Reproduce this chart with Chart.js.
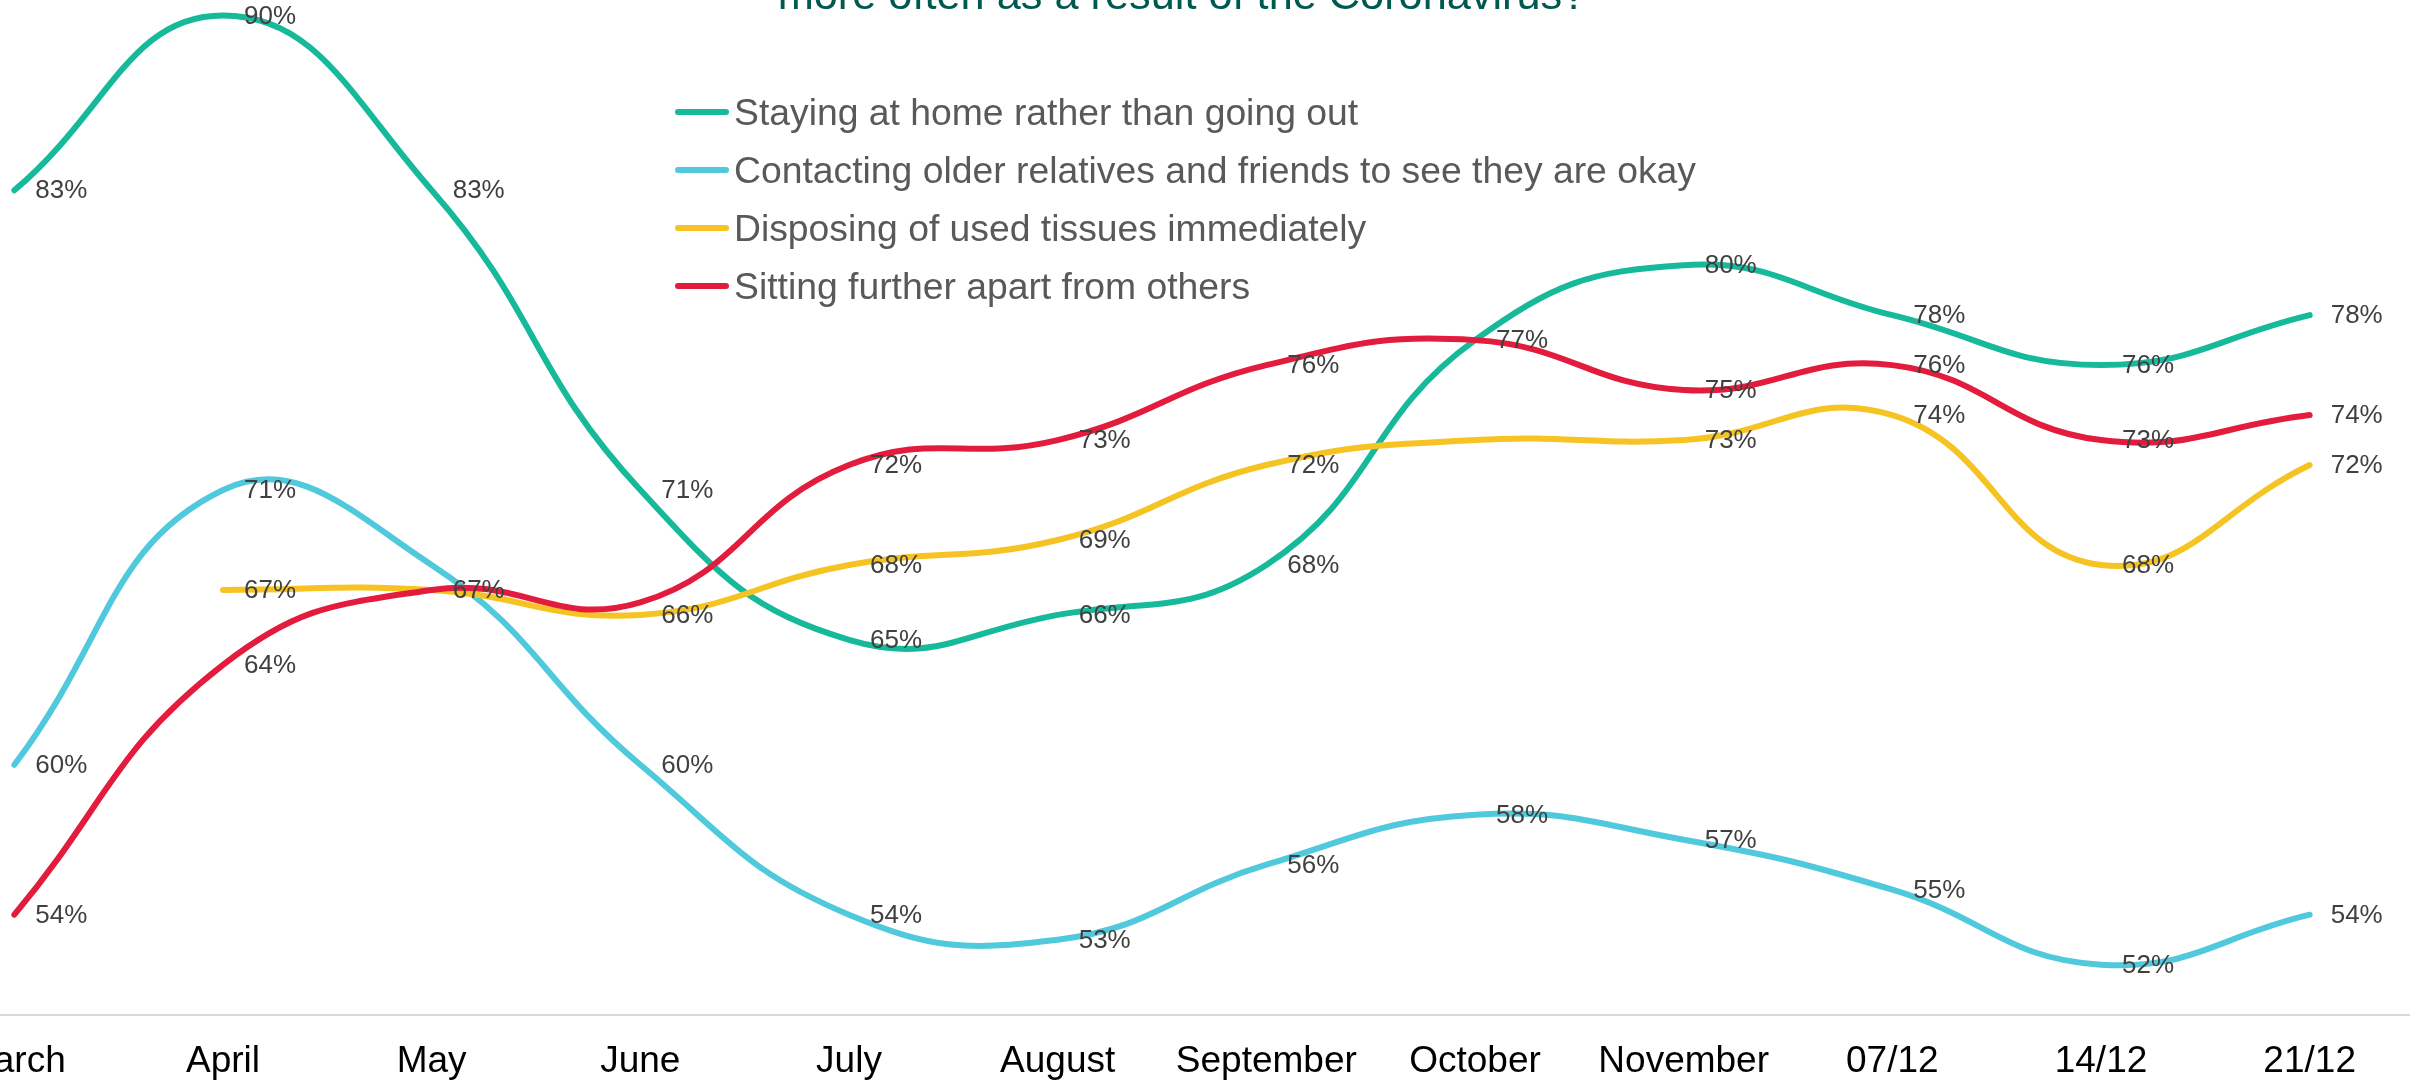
<!DOCTYPE html>
<html>
<head>
<meta charset="utf-8">
<script src="https://cdn.jsdelivr.net/npm/chart.js@4.4.1/dist/chart.umd.min.js"></script>
<style>
  html, body { margin: 0; padding: 0; width: 2410px; height: 1083px; overflow: hidden; background: #fff; font-family: 'Liberation Sans', Arial, sans-serif; }
  #wrap { position: absolute; left: -200px; top: -100px; width: 2700px; height: 1209px; }
  #title { position: absolute; left: 0; top: -27px; width: 2364px; text-align: center; font-size: 43.3px; line-height: 1; color: #00594f; white-space: nowrap; }
  #legend { position: absolute; left: 675px; top: 83px; }
  .item { display: flex; align-items: center; height: 58px; font-size: 37.3px; color: #595959; white-space: nowrap; }
  .swatch { width: 54px; height: 6px; border-radius: 3px; margin-right: 5px; }
</style>
</head>
<body>
<div id="wrap"><canvas id="chart" width="2700" height="1209"></canvas></div>
<div id="title">more often as a result of the Coronavirus?</div>
<div id="legend"></div>
<script>
const categories = ['March', 'April', 'May', 'June', 'July', 'August', 'September', 'October', 'November', '07/12', '14/12', '21/12'];
const seriesNames = [
  'Staying at home rather than going out',
  'Contacting older relatives and friends to see they are okay',
  'Disposing of used tissues immediately',
  'Sitting further apart from others'
];
const stayingHome = [83, 90, 83, 71, 65, 66, 68, 77, 80, 78, 76, 78];
const contactingOlder = [60, 71, 68, 60, 54, 53, 56, 58, 57, 55, 52, 54];
const disposingTissues = [null, 67, 67, 66, 68, 69, 72, 73, 73, 74, 68, 72];
const sittingApart = [54, 64, 67, 66.5, 72, 73, 76, 77, 75, 76, 73, 74];
// points whose label is not shown in the original: [series, point]
const hiddenLabels = [[1, 2], [2, 2], [2, 7], [3, 3], [3, 7]];

const colors = ['#17b99b', '#4fc9db', '#f5c422', '#e31c3d'];
const values = [stayingHome, contactingOlder, disposingTissues, sittingApart];

const legendBox = document.getElementById('legend');
seriesNames.forEach((name, i) => {
  legendBox.innerHTML += `
    <div class="item">
      <div class="swatch" style="background:${colors[i]}"></div>
      <span>${name}</span>
    </div>`;
});

const pointLabels = {
  id: 'pointLabels',
  afterDatasetsDraw(chart) {
    const ctx = chart.ctx;
    ctx.save();
    ctx.font = '26px "Liberation Sans", Arial, sans-serif';
    ctx.fillStyle = '#404040';
    ctx.textAlign = 'left';
    ctx.textBaseline = 'middle';
    chart.data.datasets.forEach((ds, di) => {
      chart.getDatasetMeta(di).data.forEach((pt, i) => {
        const v = ds.data[i];
        if (v == null) return;
        if (hiddenLabels.some(h => h[0] === di && h[1] === i)) return;
        ctx.fillText(Math.round(v) + '%', pt.x + 21, pt.y + 1);
      });
    });
    ctx.restore();
  }
};

new Chart(document.getElementById('chart'), {
  type: 'line',
  data: {
    labels: categories,
    datasets: values.map((vals, i) => ({
      label: seriesNames[i],
      data: vals,
      borderColor: colors[i],
      backgroundColor: colors[i],
      borderWidth: 6,
      borderCapStyle: 'round',
      pointRadius: 0,
      tension: 0.45,
      fill: false,
      order: 3 - i
    }))
  },
  options: {
    responsive: false,
    animation: false,
    layout: { padding: { left: 110, right: 86, top: 90.4, bottom: 0 } },
    plugins: {
      legend: { display: false },
      title: { display: false },
      tooltip: { enabled: false }
    },
    scales: {
      x: {
        offset: true,
        grid: { display: false, drawTicks: false },
        border: { display: true, color: '#d9d9d9', width: 2 },
        ticks: {
          padding: 25,
          color: '#000000',
          font: { family: "'Liberation Sans', Arial, sans-serif", size: 37 },
          maxRotation: 0,
          autoSkip: false
        }
      },
      y: {
        display: false,
        min: 50,
        max: 91
      }
    }
  },
  plugins: [pointLabels]
});
</script>
</body>
</html>
